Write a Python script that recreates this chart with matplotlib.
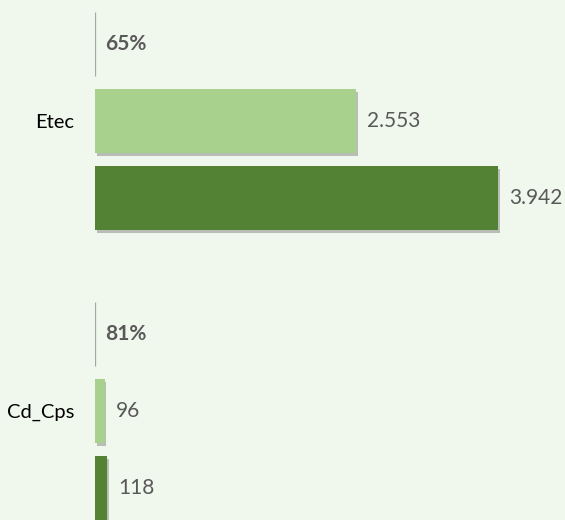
import matplotlib.pyplot as plt
import matplotlib.patheffects as pe

# data (values shown with "." as thousands separator)
categories = ['Etec', 'Cd_Cps']
series_a = [2553, 96]
series_b = [3942, 118]
pct_labels = ['65%', '81%']

bg = '#f0f7ec'
light_green = '#a9d18e'
dark_green = '#548235'
gray_txt = '#595959'

plt.rcParams['font.family'] = ['Lato', 'DejaVu Sans']

fig = plt.figure(figsize=(5.65, 5.2), dpi=100, facecolor=bg)
ax = fig.add_axes([95 / 565, 0, 470 / 565, 1])
ax.set_facecolor(bg)

step = 77 / 290      # spacing between rows in a group
h = 64 / 290         # bar height
shadow = [pe.withSimplePatchShadow(offset=(1.2, -2.5), shadow_rgbFace='#666666', alpha=0.4)]

for i, cat in enumerate(categories):
    y_pct = i - step
    y_a = i
    y_b = i + step
    # empty "percentage" row: just a thin line at the axis
    ax.vlines(0, y_pct - h / 2, y_pct + h / 2, color='#a6a6a6', lw=0.9)
    ax.annotate(pct_labels[i], (0, y_pct), xytext=(7.5, 0), textcoords='offset points',
                ha='left', va='center', fontsize=15, fontweight='bold', color=gray_txt)
    for y, v, c in [(y_a, series_a[i], light_green), (y_b, series_b[i], dark_green)]:
        ax.barh(y, v, height=h, color=c, path_effects=shadow)
        txt = f'{v:,}'.replace(',', '.')
        ax.annotate(txt, (v, y), xytext=(8, 0), textcoords='offset points',
                    ha='left', va='center', fontsize=15, color=gray_txt)

ax.set_xlim(0, 3942 * 470 / 403)
ax.set_ylim(399 / 290, -121 / 290)
ax.set_yticks(range(len(categories)))
ax.set_yticklabels(categories, fontsize=14.5, color='black')
ax.tick_params(axis='y', length=0, pad=15)
ax.set_xticks([])
for s in ax.spines.values():
    s.set_visible(False)

fig.savefig('out.png', dpi=100, facecolor=bg)
